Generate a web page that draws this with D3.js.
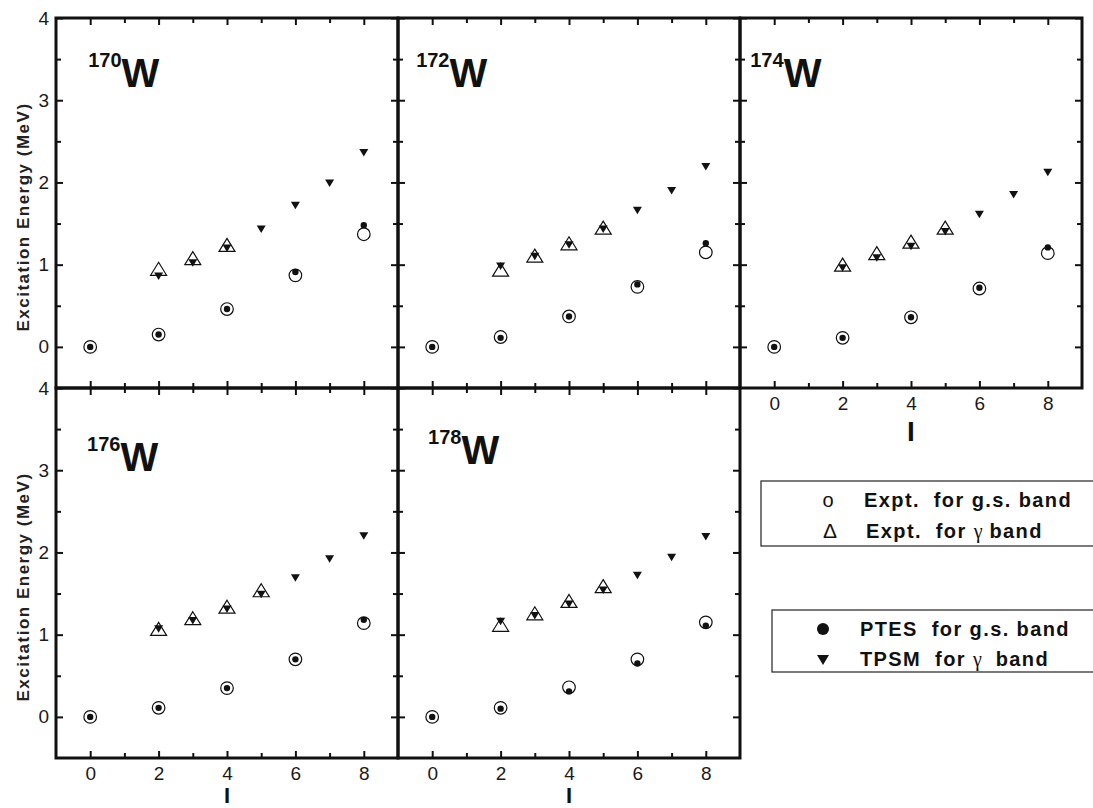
<!DOCTYPE html>
<html>
<head>
  <meta charset="utf-8">
  <title>W isotopes excitation energies</title>
  <script src="https://d3js.org/d3.v7.min.js"></script>
  <style>
    body { margin: 0; background: #fff; overflow: hidden; }
    svg { display: block; }
    text { font-family: Arial, "Liberation Sans", sans-serif; white-space: pre; }
  </style>
</head>
<body>
<div id="chart"></div>
<script>
// nuclei, one panel each
var nuclei = ["170", "172", "174", "176", "178"];

// spins
var spinGs = [0, 2, 4, 6, 8];
var spinGammaExpt = [2, 3, 4, 5];
var spinGammaTpsm = [2, 3, 4, 5, 6, 7, 8];

// Expt. for g.s. band (open circles)
var exptGs = [
  [0, 0.15, 0.46, 0.87, 1.37],
  [0, 0.12, 0.37, 0.73, 1.15],
  [0, 0.11, 0.36, 0.71, 1.14],
  [0, 0.11, 0.35, 0.70, 1.14],
  [0, 0.11, 0.36, 0.70, 1.15]
];
// PTES for g.s. band (filled circles)
var ptesGs = [
  [0, 0.15, 0.46, 0.91, 1.48],
  [0, 0.11, 0.37, 0.76, 1.26],
  [0, 0.11, 0.36, 0.72, 1.21],
  [0, 0.11, 0.35, 0.70, 1.18],
  [0, 0.10, 0.31, 0.65, 1.11]
];
// Expt. for gamma band (open triangles), null = not measured
var exptGamma = [
  [0.95, 1.08, 1.24, null],
  [0.94, 1.11, 1.26, 1.45],
  [1.00, 1.14, 1.28, 1.45],
  [1.07, 1.20, 1.34, 1.54],
  [1.12, 1.26, 1.41, 1.59]
];
// TPSM for gamma band (filled down triangles)
var tpsmGamma = [
  [0.86, 1.02, 1.20, 1.43, 1.72, 1.99, 2.36],
  [0.98, 1.10, 1.24, 1.43, 1.66, 1.90, 2.19],
  [0.96, 1.08, 1.22, 1.40, 1.61, 1.85, 2.12],
  [1.07, 1.17, 1.31, 1.49, 1.69, 1.92, 2.20],
  [1.16, 1.23, 1.37, 1.54, 1.72, 1.94, 2.19]
];

var xTicks = [0, 2, 4, 6, 8];
var xMinor = [1, 3, 5, 7];
var yTicks = [0, 1, 2, 3, 4];
var yMinor = [0.5, 1.5, 2.5, 3.5];

// layout (not data)
var W = 1093, H = 808;
var left0 = 56, top0 = 18, pw = 342, ph = 370;
var panels = [
  {col: 0, row: 0, yLab: true,  xLab: false, lx: -0.06, ly: 3.16},
  {col: 1, row: 0, yLab: false, xLab: false, lx: -0.47, ly: 3.16},
  {col: 2, row: 0, yLab: false, xLab: true,  lx: -0.70, ly: 3.16},
  {col: 0, row: 1, yLab: true,  xLab: true,  lx: -0.09, ly: 2.99},
  {col: 1, row: 1, yLab: false, xLab: true,  lx: -0.12, ly: 3.08}
];

var svg = d3.select("#chart").append("svg")
  .attr("width", W)
  .attr("height", H);

function triUp(w, h) {
  return "M0," + (-h / 2) + "L" + (w / 2) + "," + (h / 2) + "L" + (-w / 2) + "," + (h / 2) + "Z";
}
function triDown(w, h) {
  return "M0," + (h / 2) + "L" + (w / 2) + "," + (-h / 2) + "L" + (-w / 2) + "," + (-h / 2) + "Z";
}

panels.forEach(function(p, i) {
  var x0 = left0 + p.col * pw, y0 = top0 + p.row * ph;
  var x = d3.scaleLinear().domain([-1, 9]).range([x0, x0 + pw]);
  var y = d3.scaleLinear().domain([-0.5, 4]).range([y0 + ph, y0]);
  var g = svg.append("g");

  function axis(gen, pos, vals, size, labels) {
    var a = gen.tickValues(vals).tickSize(-size).tickPadding(labels ? 9 : 0)
      .tickFormat(labels ? d3.format("d") : "");
    var ax = g.append("g").attr("transform", pos).call(a);
    ax.select(".domain").remove();
    ax.selectAll("line").attr("stroke", "#111").attr("stroke-width", 2);
    ax.selectAll("text").attr("font-size", 19).attr("fill", "#1a1a1a")
      .attr("font-family", "Arial, 'Liberation Sans', sans-serif");
    return ax;
  }

  // bottom / top
  axis(d3.axisBottom(x), "translate(0," + (y0 + ph) + ")", xTicks, 7, p.xLab);
  axis(d3.axisBottom(x), "translate(0," + (y0 + ph) + ")", xMinor, 5, false);
  axis(d3.axisTop(x), "translate(0," + y0 + ")", xTicks, 7, false);
  axis(d3.axisTop(x), "translate(0," + y0 + ")", xMinor, 5, false);
  // left / right
  var la = axis(d3.axisLeft(y), "translate(" + x0 + ",0)", yTicks, 7, p.yLab);
  if (p.yLab) la.selectAll("text").attr("x", -7);
  axis(d3.axisLeft(y), "translate(" + x0 + ",0)", yMinor, 5, false);
  axis(d3.axisRight(y), "translate(" + (x0 + pw) + ",0)", yTicks, 7, false);
  axis(d3.axisRight(y), "translate(" + (x0 + pw) + ",0)", yMinor, 5, false);

  // frame
  g.append("rect")
    .attr("x", x0).attr("y", y0).attr("width", pw).attr("height", ph)
    .attr("fill", "none").attr("stroke", "#111").attr("stroke-width", 3);

  // open circles: Expt g.s.
  g.selectAll(".eg").data(spinGs.map(function(s, k) { return [s, exptGs[i][k]]; }))
    .enter().append("circle")
    .attr("cx", function(d) { return x(d[0]); })
    .attr("cy", function(d) { return y(d[1]); })
    .attr("r", 6.3)
    .attr("fill", "none").attr("stroke", "#111").attr("stroke-width", 1.2);

  // open triangles: Expt gamma
  g.selectAll(".egam").data(spinGammaExpt.map(function(s, k) { return [s, exptGamma[i][k]]; })
      .filter(function(d) { return d[1] != null; }))
    .enter().append("path")
    .attr("d", triUp(16, 13))
    .attr("transform", function(d) { return "translate(" + x(d[0]) + "," + y(d[1]) + ")"; })
    .attr("fill", "none").attr("stroke", "#111").attr("stroke-width", 1.2);

  // filled circles: PTES
  g.selectAll(".pg").data(spinGs.map(function(s, k) { return [s, ptesGs[i][k]]; }))
    .enter().append("circle")
    .attr("cx", function(d) { return x(d[0]); })
    .attr("cy", function(d) { return y(d[1]); })
    .attr("r", 3.2)
    .attr("fill", "#111");

  // filled down triangles: TPSM
  g.selectAll(".tg").data(spinGammaTpsm.map(function(s, k) { return [s, tpsmGamma[i][k]]; }))
    .enter().append("path")
    .attr("d", triDown(9, 7.5))
    .attr("transform", function(d) { return "translate(" + x(d[0]) + "," + y(d[1]) + ")"; })
    .attr("fill", "#111");

  // nucleus label
  var t = g.append("text")
    .attr("x", x(p.lx)).attr("y", y(p.ly))
    .attr("font-weight", "bold").attr("fill", "#111");
  t.append("tspan").attr("font-size", 20).attr("dy", -20).text(nuclei[i]);
  t.append("tspan").attr("font-size", 40).attr("dy", 20).text("W");

  // axis titles
  if (p.yLab) {
    g.append("text")
      .attr("transform", "translate(29," + y(1.58) + ") rotate(-90)")
      .attr("text-anchor", "middle")
      .attr("font-size", 17).attr("font-weight", "bold").attr("letter-spacing", 1.5)
      .attr("fill", "#222")
      .text("Excitation Energy (MeV)");
  }
  if (p.xLab) {
    var bottomRow = p.row === 1;
    g.append("text")
      .attr("x", x(4)).attr("y", bottomRow ? H - 5 : y0 + ph + 53)
      .attr("text-anchor", "middle")
      .attr("font-size", bottomRow ? 22 : 28).attr("font-weight", "bold").attr("fill", "#111")
      .text("I");
  }
});

// legends
var serif = "'Liberation Serif', 'Times New Roman', serif";
var lg1 = svg.append("g");
lg1.append("rect").attr("x", 761).attr("y", 481).attr("width", 340).attr("height", 65)
  .attr("fill", "none").attr("stroke", "#222").attr("stroke-width", 1.2);
lg1.append("text").attr("x", 828).attr("y", 507).attr("text-anchor", "middle")
  .attr("font-family", serif).attr("font-size", 20).attr("fill", "#111").text("o");
lg1.append("text").attr("x", 830).attr("y", 538).attr("text-anchor", "middle")
  .attr("font-family", serif).attr("font-size", 21).attr("fill", "#111").text("\u0394");
lg1.append("text").attr("x", 864).attr("y", 507)
  .attr("font-size", 20).attr("font-weight", "bold").attr("letter-spacing", 1.4).attr("fill", "#111")
  .text("Expt.  for g.s. band");
var l12 = lg1.append("text").attr("x", 866).attr("y", 538)
  .attr("font-size", 20).attr("font-weight", "bold").attr("letter-spacing", 1.4).attr("fill", "#111");
l12.append("tspan").text("Expt.  for ");
l12.append("tspan").attr("font-family", serif).attr("font-weight", "normal").attr("letter-spacing", 0).text("\u03b3");
l12.append("tspan").text(" band");

var lg2 = svg.append("g");
lg2.append("rect").attr("x", 772).attr("y", 610).attr("width", 330).attr("height", 62)
  .attr("fill", "none").attr("stroke", "#222").attr("stroke-width", 1.2);
lg2.append("circle").attr("cx", 823).attr("cy", 629).attr("r", 6).attr("fill", "#111");
lg2.append("path").attr("d", triDown(12, 10)).attr("transform", "translate(823,660)").attr("fill", "#111");
lg2.append("text").attr("x", 860).attr("y", 636)
  .attr("font-size", 20).attr("font-weight", "bold").attr("letter-spacing", 1.4).attr("fill", "#111")
  .text("PTES  for g.s. band");
var l22 = lg2.append("text").attr("x", 860).attr("y", 666)
  .attr("font-size", 20).attr("font-weight", "bold").attr("letter-spacing", 1.4).attr("fill", "#111");
l22.append("tspan").text("TPSM  for ");
l22.append("tspan").attr("font-family", serif).attr("font-weight", "normal").attr("letter-spacing", 0).text("\u03b3");
l22.append("tspan").text("  band");
</script>
</body>
</html>
